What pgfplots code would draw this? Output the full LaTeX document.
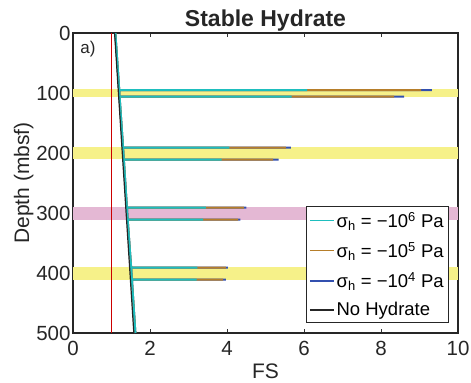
\documentclass[border=0pt]{standalone}
\usepackage{pgfplots}
\pgfplotsset{compat=1.18}
\usepackage{fontspec}
\setmainfont{Liberation Sans}
\definecolor{cyanl}{RGB}{30,190,190}
\definecolor{brownl}{RGB}{182,126,42}
\definecolor{bluel}{RGB}{50,80,175}
\definecolor{bandy}{RGB}{246,241,137}
\definecolor{bandp}{RGB}{228,184,212}
\begin{document}
\begin{tikzpicture}
\begin{axis}[
  scale only axis, width=385bp, height=300bp,
  xmin=0, xmax=10, ymin=0, ymax=500, y dir=reverse,
  xtick={0,2,4,6,8,10}, ytick={0,100,200,300,400,500},
  tick align=inside, major tick length=4bp,
  tick style={black!80, line width=0.6bp},
  axis line style={black!85, line width=1.2bp},
  /pgf/number format/assume math mode=true,
  tick label style={font=\fontsize{20.5bp}{24bp}\selectfont, black!85},
  xticklabel style={yshift=-5bp},
  yticklabel style={xshift=1bp},
  label style={font=\fontsize{21bp}{24bp}\selectfont, black!85},
  xlabel={FS}, ylabel={Depth (mbsf)},
  xlabel style={yshift=-1bp},
  ylabel style={yshift=-4bp},
  title={\textbf{Stable Hydrate}},
  title style={font=\fontsize{23bp}{26bp}\selectfont, black!85, yshift=-8bp},
  legend style={at={(rel axis cs:0.977,0.032)}, anchor=south east,
    font=\fontsize{18.5bp}{21bp}\selectfont, draw=black!85, line width=1bp,
    inner xsep=3bp, inner ysep=3.5bp, row sep=9.5bp, cells={anchor=west}},
  legend image code/.code={\draw[#1, line width=1.6bp] (0bp,0bp) -- (24bp,0bp);},
]
% bands
\addplot[fill=bandy, draw=none, forget plot] coordinates {(0,94) (10,94) (10,106) (0,106)} -- cycle;
\addplot[fill=bandy, draw=none, forget plot] coordinates {(0,190) (10,190) (10,210) (0,210)} -- cycle;
\addplot[fill=bandp, draw=none, forget plot] coordinates {(0,290) (10,290) (10,311) (0,311)} -- cycle;
\addplot[fill=bandy, draw=none, forget plot] coordinates {(0,390) (10,390) (10,411) (0,411)} -- cycle;
% FS = 1
\addplot[red!80!black, line width=0.5bp, forget plot] coordinates {(1,0) (1,500)};
% sigma_h = -1e4
\addplot[bluel, line width=2bp, forget plot] coordinates {
(1.10,0) (1.20,95) (9.32,95) (1.20,95) (1.21,106) (8.60,106) (1.21,106)
(1.30,191) (5.66,191) (1.30,191) (1.32,211) (5.34,211) (1.32,211)
(1.40,291) (4.50,291) (1.40,291) (1.42,311) (4.35,311) (1.42,311)
(1.51,391) (4.02,391) (1.51,391) (1.53,411) (3.97,411) (1.53,411) (1.62,500)};
% sigma_h = -1e5
\addplot[brownl, line width=2bp, forget plot] coordinates {
(1.10,0) (1.20,95) (9.04,95) (1.20,95) (1.21,106) (8.34,106) (1.21,106)
(1.30,191) (5.53,191) (1.30,191) (1.32,211) (5.20,211) (1.32,211)
(1.40,291) (4.44,291) (1.40,291) (1.42,311) (4.29,311) (1.42,311)
(1.51,391) (3.97,391) (1.51,391) (1.53,411) (3.90,411) (1.53,411) (1.62,500)};
% sigma_h = -1e6
\addplot[cyanl, line width=2bp, forget plot] coordinates {
(1.10,0) (1.20,95) (6.08,95) (1.20,95) (1.21,106) (5.68,106) (1.21,106)
(1.30,191) (4.06,191) (1.30,191) (1.32,211) (3.86,211) (1.32,211)
(1.40,291) (3.45,291) (1.40,291) (1.42,311) (3.38,311) (1.42,311)
(1.51,391) (3.23,391) (1.51,391) (1.53,411) (3.21,411) (1.53,411) (1.62,500)};
% no hydrate
\addplot[black!85, line width=1.2bp, forget plot] coordinates {(1.08,0) (1.58,500)};
\addlegendimage{color=cyanl}
\addlegendentry{σ\textsubscript{h} = −10\textsuperscript{6} Pa}
\addlegendimage{color=brownl}
\addlegendentry{σ\textsubscript{h} = −10\textsuperscript{5} Pa}
\addlegendimage{color=bluel}
\addlegendentry{σ\textsubscript{h} = −10\textsuperscript{4} Pa}
\addlegendimage{color=black!85}
\addlegendentry{No Hydrate}
\node[anchor=north west, font=\fontsize{17bp}{20bp}\selectfont, black!85] at (rel axis cs:0.01,0.985) {a)};
\end{axis}
\pgfresetboundingbox
\useasboundingbox ([shift={(-73bp,-50bp)}]current axis.south west) rectangle ([shift={(13bp,33bp)}]current axis.north east);
\end{tikzpicture}
\end{document}
